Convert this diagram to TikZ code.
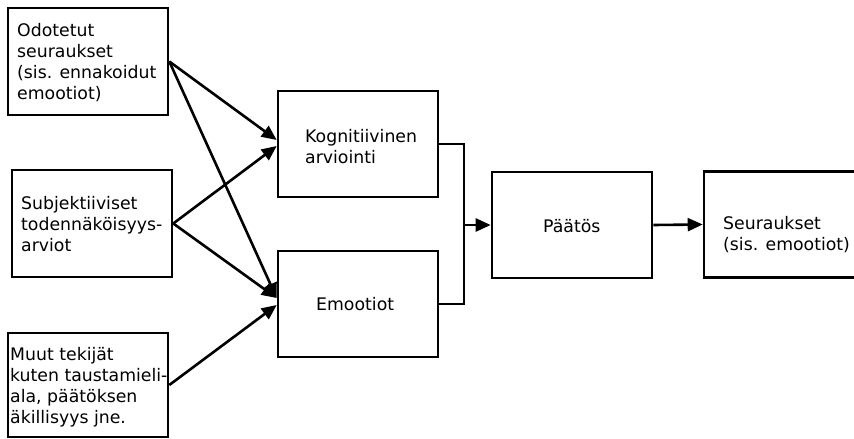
\documentclass[tikz,border=0pt]{standalone}
\usepackage{fontspec}
\setmainfont{DejaVu Sans}
\usetikzlibrary{arrows.meta,calc}
\begin{document}
\begin{tikzpicture}[x=1pt,y=-1pt,
  box/.style={draw=black,line width=2.6pt,rectangle,inner sep=0pt},
  txt/.style={inner sep=0pt,anchor=base west,align=left,font=\fontsize{17.3}{21}\selectfont},
  conn/.style={line width=2.6pt},
  arr/.style={line width=2.6pt,-{Triangle[length=15pt,width=13pt]}}]
\useasboundingbox (0,0) rectangle (854,439);
\clip (0,0) rectangle (854,439);
% boxes
\node[box,minimum width=160pt,minimum height=107pt] (odo) at (88,61.5) {};
\node[box,minimum width=160pt,minimum height=107pt] (sub) at (92,223.5) {};
\node[box,minimum width=160pt,minimum height=104pt] (muu) at (88,385) {};
\node[box,minimum width=160pt,minimum height=106pt] (kog) at (358,144) {};
\node[box,minimum width=160pt,minimum height=106pt] (emo) at (358,304) {};
\node[box,minimum width=160pt,minimum height=106pt] (paa) at (572,225) {};
\node[box,minimum width=160pt,minimum height=106pt] (seu) at (784,224.5) {};
% texts (anchor base = baseline of last line)
\node[txt] (odot) at (17,99) {Odotetut\\seuraukset\\(sis. ennakoidut\\emootiot)};
\node[txt] (subt) at (21,251) {Subjektiiviset\\todennäköisyys-\\arviot};
\node[txt] (muut) at (10,423) {Muut tekijät\\kuten taustamieli-\\ala, päätöksen\\äkillisyys jne.};
\node[txt] (kogt) at (305,163) {Kognitiivinen\\arviointi};
\node[txt] (emot) at (316,310) {Emootiot};
\node[txt] (paat) at (543,232) {Päätös};
\node[txt] (seut) at (723,250) {Seuraukset\\(sis. emootiot)};
% connectors
\draw[arr] (odo.east) -- ($(kog.west)+(0,-4)$);
\draw[arr] (odo.east) -- ($(emo.west)+(0,-6)$);
\draw[arr] (sub.east) -- ($(kog.west)+(0,2)$);
\draw[arr] (sub.east) -- ($(emo.west)+(0,-6)$);
\draw[arr] (muu.east) -- ($(emo.west)+(0,1)$);
\coordinate (j) at (464,225);
\draw[conn] (kog.east) -| (j) |- (emo.east);
\draw[arr] (j) -- (paa.west);
\draw[arr] (paa.east) -- (seu.west);
\end{tikzpicture}
\end{document}
